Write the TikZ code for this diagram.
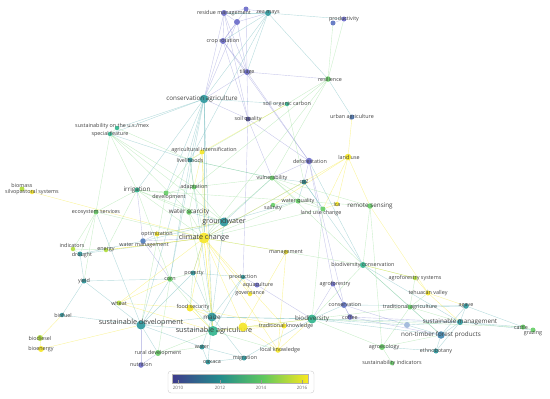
\documentclass[tikz,border=0pt]{standalone}
\usepackage{fontspec}
\setmainfont{Open Sans}
\usetikzlibrary{backgrounds}

\definecolor{yr10}{RGB}{105,105,200}
\definecolor{yr11}{RGB}{75,120,185}
\definecolor{yr12}{RGB}{40,150,155}
\definecolor{yr13}{RGB}{45,180,140}
\definecolor{yr14}{RGB}{100,205,100}
\definecolor{yr15}{RGB}{175,220,55}
\definecolor{yr16}{RGB}{245,230,35}
\definecolor{bar10}{RGB}{62,58,140}
\definecolor{bar12}{RGB}{35,140,140}
\definecolor{bar14}{RGB}{95,200,95}
\definecolor{bar16}{RGB}{250,232,30}

\tikzset{
  kw/.style={circle, fill=#1, fill opacity=0.9, inner sep=0pt, minimum size=4.5pt},
  lab/.style={font=\fontsize{5.4}{6}\selectfont, text=black!75, text opacity=1, inner sep=0pt},
  midlab/.style={lab, font=\fontsize{6.3}{7}\selectfont},
  biglab/.style={lab, font=\fontsize{7.2}{8}\selectfont},
  link/.style={line width=0.4pt, draw opacity=0.45},
  yrlab/.style={font=\fontsize{4.5}{5}\selectfont, text=black!60, inner sep=0pt}
}

\begin{document}
\begin{tikzpicture}[x=1pt, y=-1pt]
  \useasboundingbox (0,0) rectangle (550,399);

  % keywords, top cluster
  \node[kw=yr10, minimum size=6pt, label={[lab]center:residue management}] (resm) at (224,13) {};
  \node[kw=yr12, minimum size=6pt, label={[lab]center:zea mays}] (zea) at (268,13) {};
  \node[kw=yr10, minimum size=5pt] (pa) at (246,9) {};
  \node[kw=yr10, minimum size=6pt] (pb) at (237,22) {};
  \node[kw=yr10, minimum size=6pt, label={[lab]center:crop rotation}] (crop) at (223,41) {};
  \node[kw=yr10, minimum size=6pt, label={[lab]center:tillage}] (till) at (247,72) {};
  \node[kw=yr12, minimum size=8.5pt, label={[midlab, xshift=-2pt]center:conservation agriculture}] (consag) at (204,99) {};
  \node[kw=yr10!70!black, minimum size=5pt, label={[lab]center:soil quality}] (soilq) at (248,119) {};
  \node[kw=yr11!50!yr10, minimum size=5pt] (prodb) at (333,23) {};
  \node[kw=yr10, minimum size=5pt, label={[lab]center:productivity}] (prod) at (344,19) {};
  \node[kw=yr14, minimum size=5.5pt, label={[lab, xshift=2pt]center:resilience}] (resil) at (328,79) {};
  \node[kw=yr13, label={[lab]center:soil organic carbon}] (soc) at (287,104) {};
  \node[kw=yr11, minimum size=5pt, label={[lab]center:urban agriculture}] (urban) at (352,117) {};
  \node[kw=yr13, label={[lab, xshift=-5pt, yshift=2pt]center:sustainability on the u.s./mex}] (susus) at (117,128) {};
  \node[kw=yr13, label={[lab]center:special feature}] (specf) at (110,134) {};

  % middle
  \node[kw=yr16, minimum size=5pt, label={[lab, xshift=2pt, yshift=2pt]center:agricultural intensification}] (agint) at (202,152) {};
  \node[kw=yr12, minimum size=5pt, label={[lab]center:livelihoods}] (liveli) at (190,160) {};
  \node[kw=yr10, minimum size=6.5pt, label={[lab, xshift=1pt]center:deforestation}] (defor) at (309,161) {};
  \node[kw=yr16, minimum size=6.5pt, label={[lab, xshift=1pt]center:land use}] (landuse) at (348,157) {};
  \node[kw=yr14, minimum size=5pt, label={[lab]center:vulnerability}] (vuln) at (272,178) {};
  \node[kw=yr12!80!black, minimum size=5pt, label={[lab]center:co2}] (co2) at (304,182) {};
  \node[kw=yr14, minimum size=5pt, label={[lab]center:water quality}] (wq) at (298,201) {};
  \node[kw=yr14, label={[lab, yshift=-3pt]center:salinity}] (salin) at (273,205) {};
  \node[kw=yr14, minimum size=5pt, label={[lab, xshift=-2pt, yshift=-4pt]center:land use change}] (luc) at (323,209) {};
  \node[kw=yr16, label={[lab]center:lca}] (lca) at (337,204) {};
  \node[kw=yr14, minimum size=5.5pt, label={[midlab]center:remote sensing}] (rs) at (370,206) {};
  \node[kw=yr15, minimum size=5pt, label={[lab, yshift=4pt]center:biomass}] (biomass) at (22,189) {};
  \node[kw=yr16, label={[lab]center:silvopastoral systems}] (silvo) at (32,192) {};
  \node[kw=yr13, minimum size=5pt, label={[midlab]center:irrigation}] (irrig) at (137,190) {};
  \node[kw=yr14, minimum size=5pt, label={[lab, xshift=3pt, yshift=-4pt]center:development}] (devel) at (166,193) {};
  \node[kw=yr14, minimum size=5pt, label={[lab]center:adaptation}] (adapt) at (194,187) {};
  \node[kw=yr14, minimum size=5pt, label={[lab]center:ecosystem services}] (ecoss) at (96,212) {};
  \node[kw=yr14, minimum size=5.5pt, label={[midlab]center:water scarcity}] (wscar) at (189,212) {};
  \node[kw=yr12, minimum size=9pt, label={[biglab]center:groundwater}] (gw) at (224,222) {};
  \node[kw=yr16, minimum size=11pt, label={[biglab]center:climate change}] (cc) at (204,238) {};
  \node[kw=yr16, minimum size=5pt, label={[lab]center:optimization}] (optim) at (157,234) {};
  \node[kw=yr11, minimum size=5.5pt, label={[lab, xshift=1pt, yshift=-4pt]center:water management}] (wman) at (143,241) {};
  \node[kw=yr15, label={[lab, xshift=-1pt, yshift=4pt]center:indicators}] (indic) at (73,249) {};
  \node[kw=yr12, minimum size=5pt, label={[lab, xshift=2pt, yshift=-1pt]center:drought}] (drought) at (80,254) {};
  \node[kw=yr15, label={[lab]center:energy}] (energy) at (106,250) {};
  \node[kw=yr16, label={[lab]center:management}] (manag) at (286,252) {};
  \node[kw=yr13, minimum size=6pt, label={[lab]center:biodiversity conservation}] (bioc) at (363,265) {};

  % lower left
  \node[kw=yr12, minimum size=5pt, label={[lab]center:yield}] (yield) at (84,281) {};
  \node[kw=yr14, minimum size=5.5pt, label={[lab]center:corn}] (corn) at (170,279) {};
  \node[kw=yr12, minimum size=5pt, label={[lab, xshift=1pt]center:poverty}] (pov) at (193,273) {};
  \node[kw=yr12, label={[lab]center:production}] (prodn) at (243,277) {};
  \node[kw=yr10, minimum size=5pt, label={[lab, xshift=1pt]center:aquaculture}] (aquac) at (257,285) {};
  \node[kw=yr16, label={[lab]center:governance}] (govern) at (250,294) {};
  \node[kw=yr15, minimum size=5pt, label={[lab]center:wheat}] (wheat) at (119,303) {};
  \node[kw=yr16, minimum size=7pt, label={[lab, xshift=3pt, yshift=1pt]center:food security}] (fsec) at (190,308) {};
  \node[kw=yr12, minimum size=9pt, label={[midlab]center:maize}] (maize) at (212,317) {};
  \node[kw=yr12, label={[lab, xshift=1pt]center:biofuel}] (biofuel) at (62,315) {};
  \node[kw=yr12, minimum size=9pt, label={[biglab, yshift=2pt]center:sustainable development}] (sdev) at (141,325) {};
  \node[kw=yr13, minimum size=10pt, label={[biglab, xshift=1pt]center:sustainable agriculture}] (sagr) at (213,331) {};
  \node[kw=yr16, minimum size=9pt] (ya) at (243,327) {};
  \node[kw=yr16, minimum size=5pt, label={[lab, xshift=2pt]center:traditional knowledge}] (tradk) at (284,326) {};
  \node[kw=yr16, minimum size=5.5pt, label={[lab, xshift=2pt]center:local knowledge}] (lk) at (278,350) {};
  \node[kw=yr14, minimum size=6pt, label={[lab]center:rural development}] (ruraldev) at (158,353) {};
  \node[kw=yr10, minimum size=5.5pt, label={[lab]center:nutrition}] (nutr) at (141,365) {};
  \node[kw=yr12, minimum size=5pt, label={[lab]center:water}] (water) at (202,347) {};
  \node[kw=yr12, minimum size=5pt, label={[lab, xshift=1pt]center:migration}] (migr) at (244,358) {};
  \node[kw=yr12, minimum size=5pt, label={[lab, xshift=4pt]center:oaxaca}] (oaxaca) at (208,362) {};
  \node[kw=yr15, minimum size=6pt, label={[lab]center:biodiesel}] (biodiesel) at (40,338) {};
  \node[kw=yr16, minimum size=6pt, label={[lab]center:bioenergy}] (bioenergy) at (41,349) {};

  % lower right
  \node[kw=yr13, minimum size=9pt, label={[midlab]center:biodiversity}] (biodiv) at (312,319) {};
  \node[kw=yr10!60!yr11, minimum size=6pt, label={[lab, xshift=1pt]center:conservation}] (conserv) at (344,305) {};
  \node[kw=yr10, minimum size=5pt, label={[lab, xshift=2pt]center:agroforestry}] (agrof) at (333,284) {};
  \node[kw=yr10, minimum size=5.5pt, label={[lab]center:coffee}] (coffee) at (350,317) {};
  \node[kw=yr15, label={[lab]center:agroforestry systems}] (agsys) at (415,278) {};
  \node[kw=yr16, minimum size=5pt, label={[lab]center:tehuacán valley}] (tehua) at (428,293) {};
  \node[kw=yr14, minimum size=5pt, label={[lab]center:traditional agriculture}] (tradag) at (410,307) {};
  \node[kw=yr12, minimum size=5.5pt, label={[lab]center:agave}] (agave) at (466,306) {};
  \node[kw=yr12, minimum size=6pt, label={[midlab]center:sustainable management}] (sman) at (460,322) {};
  \node[kw=yr11!55!white, minimum size=6pt] (nb) at (407,325) {};
  \node[kw=yr11!60!yr12, minimum size=7.5pt, label={[midlab]center:non-timber forest products}] (ntfp) at (441,335) {};
  \node[kw=yr14, minimum size=5pt, label={[lab, xshift=-2pt]center:cattle}] (cattle) at (523,327) {};
  \node[kw=yr14, minimum size=5pt, label={[lab, yshift=-3pt]center:grazing}] (grazing) at (533,330) {};
  \node[kw=yr14, minimum size=6pt, label={[lab, xshift=2pt]center:agroecology}] (agroeco) at (382,347) {};
  \node[kw=yr12, minimum size=5pt, label={[lab]center:ethnobotany}] (ethno) at (436,351) {};
  \node[kw=yr14, label={[lab]center:sustainability indicators}] (sind) at (392,363) {};

  % links
  \begin{scope}[on background layer]
    \foreach \a/\b in {resm/crop, resm/pa, resm/pb, resm/till, resm/consag, resm/soilq, crop/pa, crop/pb, crop/till, crop/consag, crop/soilq, crop/defor, pb/till, pb/consag, pa/till, pa/zea, pb/zea, till/soilq, till/consag, till/defor, soilq/defor, soilq/vuln, soilq/consag, soilq/prodn, defor/co2, defor/agrof, defor/conserv, defor/vuln, agrof/conserv, conserv/coffee, agrof/coffee, coffee/ntfp, conserv/nb, coffee/sman, agrof/biodiv, nutr/ruraldev, nutr/sdev, aquac/prodn, aquac/biodiv, wman/optim, wman/cc, wman/irrig, wman/corn, prod/prodb, till/resil}
      \draw[link, yr10!80!white] (\a) -- (\b);
    \foreach \a/\b in {zea/prod, zea/consag, zea/till, zea/crop, zea/resm, zea/liveli, zea/resil, consag/liveli, consag/specf, consag/susus, consag/sdev, consag/maize, consag/corn, consag/irrig, consag/devel, consag/soc, consag/cc, liveli/vuln, liveli/corn, liveli/maize, liveli/specf, gw/wscar, gw/optim, gw/wq, gw/vuln, gw/maize, gw/wman, maize/sagr, maize/sdev, maize/pov, maize/corn, maize/biodiv, maize/water, maize/migr, maize/oaxaca, maize/prodn, maize/sman, sdev/corn, sdev/yield, sdev/biofuel, sdev/ruraldev, sdev/water, sdev/sagr, sdev/ecoss, sdev/pov, yield/corn, yield/drought, yield/biofuel, drought/cc, drought/wman, pov/cc, prodn/sagr, prodn/pov, sman/agave, sman/ntfp, sman/ethno, sman/cattle, sman/grazing, sman/nb, ntfp/agave, ntfp/ethno, ntfp/biodiv, ntfp/nb, ethno/agroeco, agave/tradag, agave/cattle, agave/conserv, biodiv/conserv, biodiv/nb, bioc/defor, bioc/sman, bioc/ntfp, bioc/co2, co2/vuln, co2/wq, co2/luc, co2/cc, migr/oaxaca, water/migr, water/oaxaca, migr/biodiv, urban/resil}
      \draw[link, yr12!75!white] (\a) -- (\b);
    \foreach \a/\b in {resil/prod, resil/prodb, resil/soc, resil/cc, resil/adapt, resil/vuln, soc/co2, soc/liveli, vuln/adapt, vuln/cc, vuln/wq, vuln/luc, vuln/rs, vuln/bioc, vuln/liveli, wq/salin, wq/luc, wq/cc, wq/irrig, wq/rs, irrig/devel, irrig/specf, irrig/wscar, irrig/ecoss, irrig/energy, irrig/corn, irrig/cc, irrig/gw, devel/adapt, devel/sdev, devel/liveli, adapt/wscar, adapt/cc, adapt/gw, adapt/liveli, ecoss/specf, ecoss/cc, ecoss/drought, ecoss/yield, wscar/cc, wscar/sagr, corn/ruraldev, corn/pov, corn/sagr, ruraldev/water, ruraldev/sagr, tradag/biodiv, tradag/tehua, tradag/agsys, tradag/sman, tradag/agroeco, tradag/ntfp, agroeco/sind, agroeco/biodiv, agroeco/rs, agroeco/ntfp, susus/specf, susus/liveli, specf/adapt, specf/gw, specf/wscar, indic/drought, indic/energy, indic/ecoss, cattle/grazing, cattle/biodiv, bioc/biodiv, bioc/agsys, bioc/tradag, bioc/rs, bioc/cc, luc/cc, luc/biodiv, sagr/biodiv, sagr/lk, pov/fsec}
      \draw[link, yr14!75!white] (\a) -- (\b);
    \foreach \a/\b in {agint/liveli, agint/adapt, agint/cc, agint/soc, agint/sagr, cc/fsec, cc/optim, cc/landuse, cc/manag, cc/govern, cc/tradk, cc/wheat, cc/energy, cc/sagr, cc/pov, cc/ya, cc/lk, cc/maize, landuse/lca, landuse/rs, landuse/luc, landuse/urban, landuse/salin, manag/lk, manag/ya, silvo/biomass, silvo/cc, bioenergy/sdev, bioenergy/biodiesel, biodiesel/biofuel, wheat/fsec, wheat/corn, wheat/sagr, fsec/sagr, fsec/tradk, fsec/maize, govern/prodn, tradk/lk, tradk/sagr, ya/sagr, ya/lk, ya/biodiv, ya/tradk, tehua/agsys, tehua/rs, tehua/agave, tehua/sman, agsys/bioc, lk/biodiv, optim/gw, energy/cc, lca/luc}
      \draw[link, yr16] (\a) -- (\b);
  \end{scope}

  % year legend
  \draw[rounded corners=3pt, draw=black!20, fill=white] (168,371) rectangle (314,393);
  \shade[left color=bar10, right color=bar12] (172,374) rectangle (220,383);
  \shade[left color=bar12, right color=bar14] (220,374) rectangle (263,383);
  \shade[left color=bar14, right color=bar16] (263,374) rectangle (308,383);
  \draw[black!30, line width=0.3pt] (172,374) rectangle (308,383);
  \foreach \yr/\xx in {2010/178, 2012/220, 2014/261, 2016/302} {
    \draw[black!40, line width=0.3pt] (\xx,380) -- (\xx,384);
    \node[yrlab] (yr\yr) at (\xx,388) {\yr};
  }
\end{tikzpicture}
\end{document}
